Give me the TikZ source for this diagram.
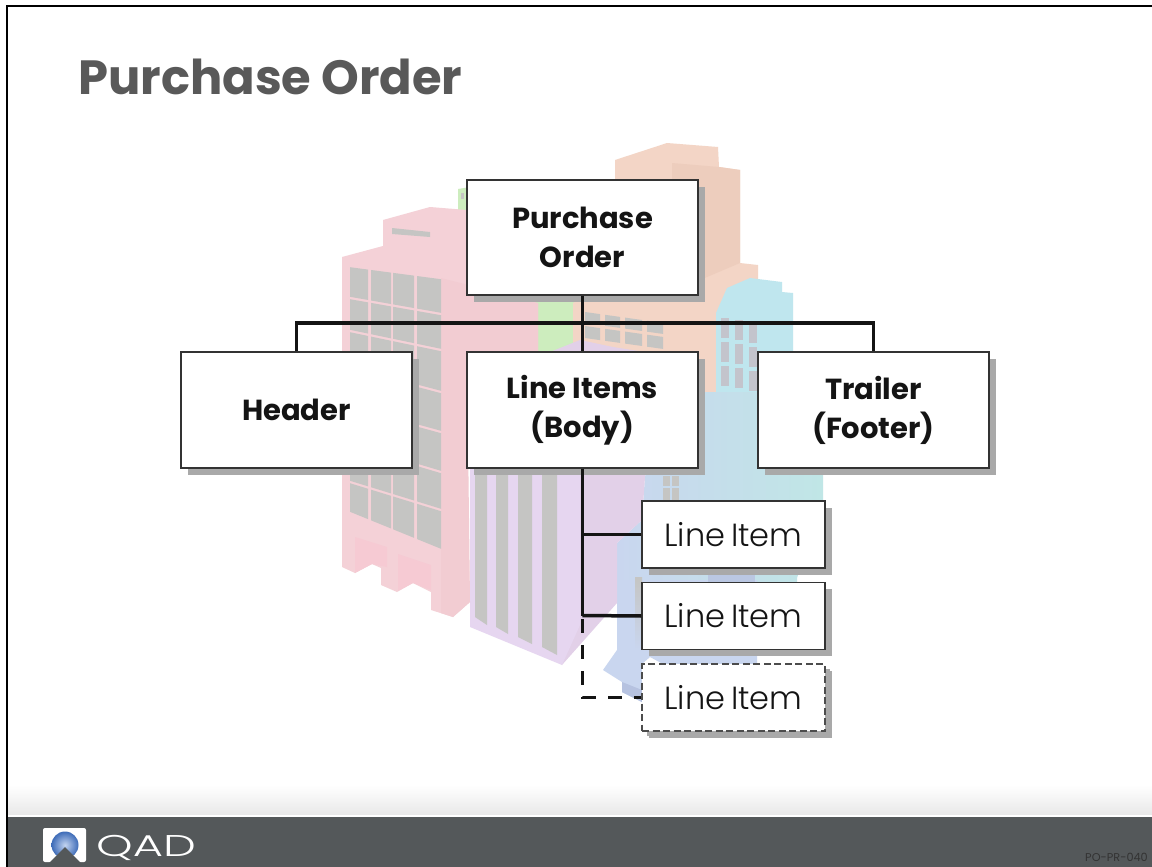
\documentclass[tikz,border=0pt]{standalone}
\usepackage{fontspec}
\setmainfont{Poppins}
\newfontfamily\lightfont{Poppins Light}
\usetikzlibrary{shadows,calc}
\definecolor{pinkA}{HTML}{F4D1D7}
\definecolor{pinkB}{HTML}{F2CCD2}
\definecolor{pinkC}{HTML}{F6CAD3}
\definecolor{purpleA}{HTML}{E6D6F0}
\definecolor{purpleB}{HTML}{E2D0E8}
\definecolor{greenA}{HTML}{CDEDBE}
\definecolor{orangeA}{HTML}{F3D5C6}
\definecolor{orangeB}{HTML}{EDCDBD}
\definecolor{cyanA}{HTML}{BFE6EE}
\definecolor{cyanB}{HTML}{C0E6E6}
\definecolor{blueA}{HTML}{C9D6EF}
\definecolor{blueB}{HTML}{B6C2E0}
\definecolor{blueC}{HTML}{BAC7E2}
\definecolor{winGray}{HTML}{C5C5C3}
\definecolor{winMauve}{HTML}{C3C4CC}
\definecolor{titleGray}{HTML}{595959}
\definecolor{barGray}{HTML}{54585A}
\definecolor{shadowGray}{HTML}{A9A9A9}
\definecolor{sphereIn}{HTML}{C3D4F0}
\definecolor{sphereOut}{HTML}{3E6CB8}
\tikzset{
  x=1pt,y=-1pt,
  boxbase/.style={draw=black!80,line width=1.2pt,fill=white,inner sep=0pt,align=center,text=black!92,
     drop shadow={shadow xshift=6.5pt,shadow yshift=-6.5pt,fill=shadowGray,opacity=1}},
  bigbox/.style={boxbase,minimum width=231pt,minimum height=115pt,font=\fontsize{29}{39}\selectfont\bfseries},
  smallbox/.style={boxbase,minimum width=183pt,minimum height=67pt,font=\lightfont\fontsize{32}{34}\selectfont},
  optbox/.style={smallbox,draw=black!70,dash pattern=on 7pt off 3.5pt,drop shadow={shadow xshift=4.5pt,shadow yshift=-4.5pt,fill=shadowGray,opacity=1}},
  link/.style={line width=3.5pt,black!92},
  optlink/.style={link,dash pattern=on 14pt off 12pt,dash phase=22.5pt},
}
\begin{document}
\begin{tikzpicture}
\useasboundingbox (0,0) rectangle (1152,867);
\fill[white] (0,0) rectangle (1152,867);
% footer
\shade[top color=white,bottom color=black!9] (8,785) rectangle (1152,815);
\fill[white] (8,815) rectangle (1152,817);
\fill[barGray] (8,817) rectangle (1152,867);
\fill[black] (6,5) rectangle (8,867);
\fill[black] (6,5) rectangle (1152,7);
% --- building scene ---
% green
\fill[greenA] (458,189) -- (470,187) -- (470,215) -- (458,215) -- cycle;
\fill[winGray] (461,193) rectangle (464,199);
\fill[greenA] (520,290) -- (575,290) -- (575,352) -- (520,352) -- cycle;
% orange
\fill[orangeA] (615,160) -- (667,143) -- (718,147) -- (719,167) -- (740,170) -- (740,263) -- (758,265) -- (758,290) -- (717,313) -- (716,392) -- (690,392) -- (573,352) -- (573,303) -- (615,280) -- cycle;
\fill[orangeB] (672,163) -- (719,167) -- (740,170) -- (740,263) -- (700,280) -- (672,280) -- cycle;
% cyan
\fill[cyanA] (716,313) -- (727,288) -- (750,278) -- (782,282) -- (782,292) -- (793,293) -- (793,352) -- (758,400) -- (716,392) -- cycle;
% lower blue-to-cyan body
\shade[left color=blueA,right color=cyanB,shading angle=90] (645,476) -- (698,392) -- (823,392) -- (823,500) -- (797,578) -- (797,583) -- (617,583) -- (617,543) -- (642,520) -- cycle;
% blue
\fill[blueA] (617,580) -- (757,580) -- (757,664) -- (663,664) -- (650,657) -- (642,664) -- (642,702) -- (622,692) -- (622,682) -- (603,670) -- (617,650) -- cycle;
\fill[blueB] (622,682) -- (642,690) -- (642,702) -- (622,692) -- cycle;
\fill[blueC] (708,574) rectangle (755,582);
\shade[top color=winGray,bottom color=blueA] (635,577) rectangle (642,650);
\foreach \cx in {663,672}{\fill[winGray] (\cx,476) rectangle ++(7,10); \fill[winGray] (\cx,488) rectangle ++(7,12);}
% purple
\fill[purpleB] (550,352) -- (580,340) -- (613,347) -- (645,352) -- (645,477) -- (642,520) -- (617,543) -- (617,603) -- (562,665) -- (540,600) -- (540,468) -- cycle;
\fill[purpleA] (470,468) -- (580,468) -- (580,625) -- (562,665) -- (470,627) -- cycle;
\fill[winGray] (475,468) -- (487,468) -- (487,625) -- (475,617) -- cycle;
\fill[winGray] (496,468) -- (508,468) -- (508,634) -- (496,627) -- cycle;
\fill[winGray] (518,468) -- (532,468) -- (532,644) -- (518,637) -- cycle;
\fill[winGray] (542,468) -- (557,468) -- (557,655) -- (542,647) -- cycle;
% pink
\fill[pinkA] (342,257) -- (383,246) -- (383,220) -- (430,207) -- (467,210) -- (467,295) -- (538,303) -- (538,352) -- (467,352) -- (467,480) -- (470,602) -- (453,617) -- (431,610) -- (431,592) -- (413,583) -- (397,592) -- (381,585) -- (381,568) -- (372,564) -- (355,573) -- (342,567) -- cycle;
\fill[pinkB] (441,278) -- (538,303) -- (538,352) -- (467,352) -- (470,602) -- (453,617) -- (441,613) -- cycle;
\fill[pinkC] (355,537) -- (387,547) -- (387,567) -- (372,564) -- (355,573) -- cycle;
\fill[pinkC] (398,554) -- (431,565) -- (431,590) -- (413,583) -- (398,591) -- cycle;
\fill[winGray] (392,228) -- (430,232) -- (430,237) -- (392,234) -- cycle;
% pink windows: 4 columns, 7 rows in perspective (left-edge y / right-edge y)
\foreach \xa/\xb in {350/368,371/391,393/414,417/441}{
  \foreach \la/\ra/\lb/\rb in {266/278/298/314,298/314/331/350,331/350/368/392,368/392/407/432,407/432/445/472,445/472/482/510,482/510/513/550}{
    \pgfmathsetmacro{\yaa}{\la+(\xa-350)/91*(\ra-\la)+1.2}
    \pgfmathsetmacro{\yab}{\lb+(\xa-350)/91*(\rb-\lb)-1.2}
    \pgfmathsetmacro{\yba}{\la+(\xb-350)/91*(\ra-\la)+1.2}
    \pgfmathsetmacro{\ybb}{\lb+(\xb-350)/91*(\rb-\lb)-1.2}
    \fill[winGray] (\xa,\yaa) -- (\xb,\yba) -- (\xb,\ybb) -- (\xa,\yab) -- cycle;
  }
}
% orange windows
\foreach \xa/\xb in {585/600,605/620,625/642,647/663}{
  \pgfmathsetmacro{\ta}{312+0.14*(\xa-585)}
  \pgfmathsetmacro{\tb}{312+0.14*(\xb-585)}
  \fill[winGray] (\xa,\ta) -- (\xb,\tb) -- (\xb,{\tb+11}) -- (\xa,{\ta+11}) -- cycle;
  \fill[winGray] (\xa,{\ta+14}) -- (\xb,{\tb+14}) -- (\xb,{\tb+26}) -- (\xa,{\ta+26}) -- cycle;
}
% cyan windows
\foreach \xa/\d in {721/0,735/2,749/5}{
  \foreach \ya in {318,342,366}{\fill[winMauve] (\xa,{\ya+\d}) rectangle ++(7.5,20);}
}
% --- chart ---
\node[font=\fontsize{48}{54}\selectfont\bfseries,text=titleGray,anchor=base west,inner sep=0pt] (title) at (78,95) {Purchase Order};
\node[bigbox] (po) at (582.5,237.5) {Purchase\\Order};
\node[bigbox,minimum height=116pt] (hdr) at (296.5,410) {Header};
\node[bigbox,minimum height=116pt] (body) at (582.5,410) {Line Items\\(Body)};
\node[bigbox,minimum height=116pt] (trl) at (873.5,410) {Trailer\\(Footer)};
\node[smallbox] (li1) at (733.5,534.5) {Line\hspace{-3pt} Item};
\node[smallbox] (li2) at (733.5,616) {Line\hspace{-3pt} Item};
\node[optbox] (li3) at (733.5,697.5) {Line\hspace{-3pt} Item};
\coordinate (bus) at (582.5,323);
\coordinate (j2) at (582.5,615.5);
\draw[link] (po.south) -- (body.north);
\draw[link] (hdr.north) |- (bus) -| (trl.north);
\draw[link] (body.south) -- (j2);
\draw[link] (li1.west) -- (li1.west -| j2);
\draw[link] (li2.west) -- (j2);
\draw[optlink] (j2) |- (li3.west);
% footer content
\node[fill=white,rounded corners=2pt,minimum width=43pt,minimum height=34pt,inner sep=0pt] (logo) at (64.5,845) {};
\shade[inner color=sphereIn,outer color=sphereOut] (65,845) circle (13.5pt);
\fill[barGray] (45,867) -- (65,847) -- (85,867) -- cycle;
\node[font=\lightfont\fontsize{30}{32}\selectfont,text=white,anchor=base west,inner sep=0pt] (qad) at (96,856.5) {\scalebox{1.55}[1]{QAD}};
\node[font=\fontsize{11.3}{13}\selectfont,text=black!80,anchor=base east,inner sep=0pt] (code) at (1148,861) {PO-PR-040};
\end{tikzpicture}
\end{document}
